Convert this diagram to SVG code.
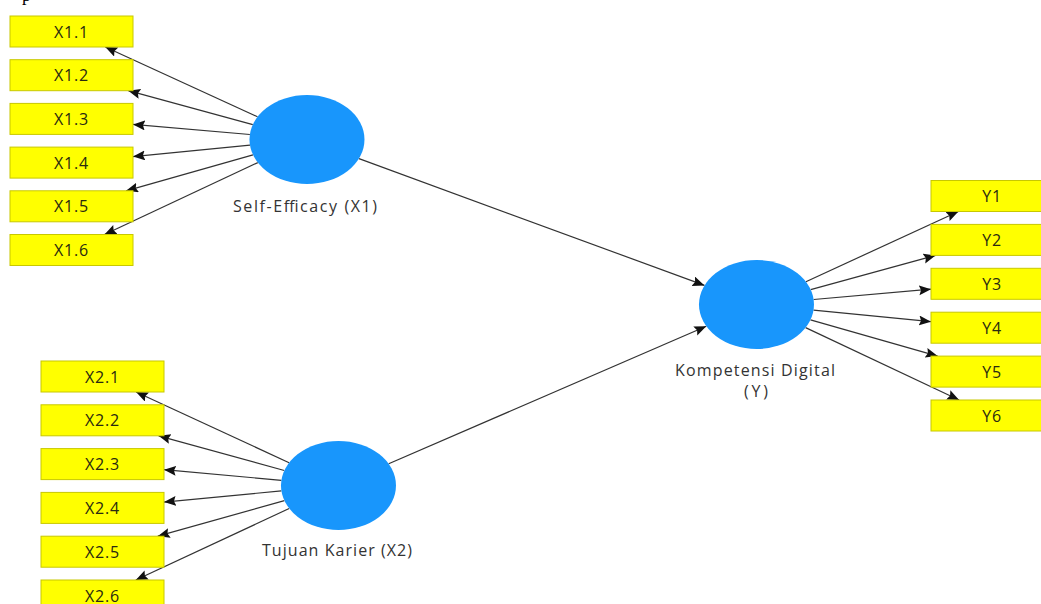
<svg xmlns="http://www.w3.org/2000/svg" width="1041" height="604" viewBox="0 0 1041 604">
<style>
.box{fill:#ffff00;stroke:#c8c800;stroke-width:1}
.bt{font-family:"Open Sans","Noto Sans","Liberation Sans",sans-serif;font-size:16px;letter-spacing:0.8px;fill:#2a2a10;text-anchor:middle}
.lv{fill:#1896fc}
.lt{font-family:"Open Sans","Noto Sans","Liberation Sans",sans-serif;font-size:16px;fill:#333;text-anchor:middle}
.c{stroke:#333;stroke-width:1.2;fill:none;marker-end:url(#ah)}
</style>
<defs>
<marker id="ah" markerUnits="userSpaceOnUse" markerWidth="13" markerHeight="11" refX="12" refY="5" orient="auto">
<path d="M0,0 L12,5 L0,10 L2,5 z" fill="#111"/>
</marker>
</defs>
<rect width="1041" height="604" fill="#fff"/>
<text x="22" y="1" font-family="Liberation Serif,serif" font-size="18" fill="#000">p</text>
<g id="connectors">
<path class="c" d="M257.5,116.8 L105.3,47"/>
<path class="c" d="M252.8,124.7 L128.3,90.7"/>
<path class="c" d="M249.9,134.5 L133,124.4"/>
<path class="c" d="M250,145.1 L133,156.6"/>
<path class="c" d="M253,154.8 L126.1,190.8"/>
<path class="c" d="M257.8,162.6 L104.5,234.5"/>
<path class="c" d="M359,158.6 L704.5,285.4"/>
<path class="c" d="M388.7,463.8 L706.3,326.2"/>
<path class="c" d="M805.9,281.7 L958.4,211.5"/>
<path class="c" d="M810.7,289.6 L935.5,255.4"/>
<path class="c" d="M813.6,299.5 L931,289.2"/>
<path class="c" d="M813.5,310.1 L931,321.7"/>
<path class="c" d="M810.5,319.9 L937.6,356.1"/>
<path class="c" d="M805.6,327.6 L959.1,400"/>
<path class="c" d="M289.1,462.7 L136.1,392"/>
<path class="c" d="M284.3,470.5 L158.6,435.8"/>
<path class="c" d="M281.4,480.3 L164,469.7"/>
<path class="c" d="M281.4,490.9 L164,502.1"/>
<path class="c" d="M284.4,500.7 L157.8,536.2"/>
<path class="c" d="M289.2,508.5 L135.8,580"/>
</g>
<g id="X1"><ellipse class="lv" cx="307" cy="139.5" rx="57.5" ry="44.5"/><text class="lt" x="305" y="212" textLength="144" lengthAdjust="spacing">Self-Efficacy (X1)</text></g>
<g id="X2"><ellipse class="lv" cx="338.5" cy="485.5" rx="57.5" ry="44.5"/><text class="lt" x="337" y="556" textLength="150" lengthAdjust="spacing">Tujuan Karier (X2)</text></g>
<g id="Y"><ellipse class="lv" cx="756.5" cy="304.5" rx="57.5" ry="44.5"/><text class="lt" x="755" y="376" textLength="160" lengthAdjust="spacing">Kompetensi Digital</text><text class="lt" x="756" y="397" textLength="24" lengthAdjust="spacing">(Y)</text></g>
<g id="X1.1"><rect class="box" x="10" y="16" width="123" height="31"/><text class="bt" x="71.5" y="37.5">X1.1</text></g>
<g id="X1.2"><rect class="box" x="10" y="59.7" width="123" height="31"/><text class="bt" x="71.5" y="81.2">X1.2</text></g>
<g id="X1.3"><rect class="box" x="10" y="103.4" width="123" height="31"/><text class="bt" x="71.5" y="124.9">X1.3</text></g>
<g id="X1.4"><rect class="box" x="10" y="147.1" width="123" height="31"/><text class="bt" x="71.5" y="168.6">X1.4</text></g>
<g id="X1.5"><rect class="box" x="10" y="190.8" width="123" height="31"/><text class="bt" x="71.5" y="212.3">X1.5</text></g>
<g id="X1.6"><rect class="box" x="10" y="234.5" width="123" height="31"/><text class="bt" x="71.5" y="256">X1.6</text></g>
<g id="X2.1"><rect class="box" x="41" y="361" width="123" height="31"/><text class="bt" x="102.5" y="382.5">X2.1</text></g>
<g id="X2.2"><rect class="box" x="41" y="404.8" width="123" height="31"/><text class="bt" x="102.5" y="426.3">X2.2</text></g>
<g id="X2.3"><rect class="box" x="41" y="448.6" width="123" height="31"/><text class="bt" x="102.5" y="470.1">X2.3</text></g>
<g id="X2.4"><rect class="box" x="41" y="492.4" width="123" height="31"/><text class="bt" x="102.5" y="513.9">X2.4</text></g>
<g id="X2.5"><rect class="box" x="41" y="536.2" width="123" height="31"/><text class="bt" x="102.5" y="557.7">X2.5</text></g>
<g id="X2.6"><rect class="box" x="41" y="580" width="123" height="31"/><text class="bt" x="102.5" y="601.5">X2.6</text></g>
<g id="Y1"><rect class="box" x="931" y="180.5" width="123" height="31"/><text class="bt" x="992" y="202">Y1</text></g>
<g id="Y2"><rect class="box" x="931" y="224.4" width="123" height="31"/><text class="bt" x="992" y="245.9">Y2</text></g>
<g id="Y3"><rect class="box" x="931" y="268.3" width="123" height="31"/><text class="bt" x="992" y="289.8">Y3</text></g>
<g id="Y4"><rect class="box" x="931" y="312.2" width="123" height="31"/><text class="bt" x="992" y="333.7">Y4</text></g>
<g id="Y5"><rect class="box" x="931" y="356.1" width="123" height="31"/><text class="bt" x="992" y="377.6">Y5</text></g>
<g id="Y6"><rect class="box" x="931" y="400" width="123" height="31"/><text class="bt" x="992" y="421.5">Y6</text></g>
</svg>
